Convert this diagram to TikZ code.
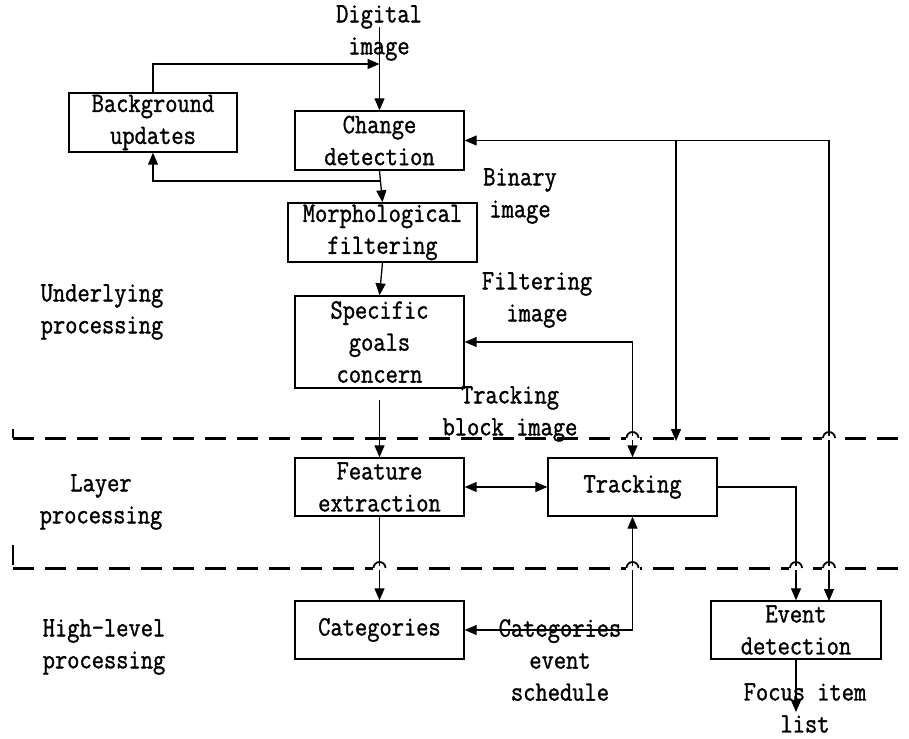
\documentclass[tikz,border=0pt]{standalone}
\usepackage{fontspec}
\setmonofont{Latin Modern Mono}[FakeStretch=0.85,FakeBold=1.2]
\usetikzlibrary{arrows.meta}
\begin{document}
\begin{tikzpicture}[x=1pt,y=-1pt,
  every node/.style={font=\ttfamily\fontsize{28}{32}\selectfont, align=center, inner sep=0pt},
  box/.style={draw, line width=1.4pt},
  conn/.style={line width=1.3pt, -{Triangle[length=12pt,width=10pt]}},
  biconn/.style={line width=1.3pt, {Triangle[length=12pt,width=10pt]}-{Triangle[length=12pt,width=10pt]}},
  dashline/.style={line width=3pt, dash pattern=on 21pt off 11pt},
  hop/.style={line width=1.8pt}]
\useasboundingbox (0,0) rectangle (909,738);

% boxes
\node[box, minimum width=168pt, minimum height=59pt] (bg) at (153,122.5) {Background\\updates};
\node[box, minimum width=169pt, minimum height=59pt] (cd) at (379.5,140.5) {Change\\detection};
\node[box, minimum width=189pt, minimum height=59pt] (mf) at (382.5,232.5) {Morphological\\filtering};
\node[box, minimum width=169pt, minimum height=92pt] (sg) at (379.5,342) {Specific\\goals\\concern};
\node[box, minimum width=169pt, minimum height=58pt] (fe) at (379.5,487) {Feature\\extraction};
\node[box, minimum width=169pt, minimum height=58pt] (tr) at (632.5,487) {Tracking};
\node[box, minimum width=169pt, minimum height=58pt] (ca) at (379.5,630) {Categories};
\node[box, minimum width=170pt, minimum height=58pt] (ed) at (796,630) {Event\\detection};

% labels
\node (l1) at (379,33) {Digital\\image};
\node (l2) at (520,196) {Binary\\image};
\node (l3) at (537,300) {Filtering\\image};
\node (l4) at (510,414) {Tracking\\block image};
\node (l5) at (102,312) {Underlying\\processing};
\node (l6) at (101,502) {Layer\\processing};
\node (l7) at (104,647) {High-level\\processing};
\node (l8) at (560,660) {Categories\\event\\schedule};
\node (l9) at (805,708) {Focus item\\list};

% dashed separators
\coordinate (d1a) at (13,438); \coordinate (d1b) at (909,438);
\coordinate (d2a) at (13,568); \coordinate (d2b) at (909,568);
\draw[dashline] (d1a) -- (d1b);
\draw[dashline] (d2a) -- (d2b);
\coordinate (t1a) at (13,429); \coordinate (t2a) at (13,545); \coordinate (t2b) at (13,565);
\draw[line width=1.6pt] (t1a) -- (d1a);
\draw[line width=1.6pt] (t2a) -- (t2b);

% connectors
\coordinate (din) at (379.5,27);
\draw[conn] (din) -- (cd.north);
\coordinate (bgin) at (379.5,64);
\draw[conn] (bg.north) |- (bgin);
\draw[conn] (cd.south) -- (mf.north);
\coordinate (br) at (380.5,181);
\draw[conn] (br) -| (bg.south);
\draw[conn] (mf.south) -- (sg.north);
\coordinate (sgout) at (379.5,400);
\draw[conn] (sgout) -- (fe.north);
\draw[biconn] (sg.east) -| (tr.north);
\draw[biconn] (fe.east) -- (tr.west);
\draw[conn] (fe.south) -- (ca.north);
\draw[conn] (tr.east) -| (ed.north);
\draw[biconn] (tr.south) |- (ca.east);
\coordinate (edin) at (829,601);
\coordinate (fb1) at (829,140.5);
\draw[biconn] (edin) -- (fb1) -- (cd.east);
\coordinate (fb2) at (676,140.5);
\coordinate (fb2e) at (676,441);
\draw[conn] (fb2) -- (fb2e);
\coordinate (focus) at (796,712);
\draw[conn] (ed.south) -- (focus);

% hops of the dashed lines over the connectors
\foreach \hx in {632.5,829} {
  \fill[white] (\hx-7,436.4) rectangle (\hx+7,439.6);
  \draw[hop] (\hx-6,438) arc[start angle=180,end angle=360,radius=6];
}
\foreach \hx in {379.5,632.5,796,829} {
  \fill[white] (\hx-7,566.4) rectangle (\hx+7,569.6);
  \draw[hop] (\hx-6,568) arc[start angle=180,end angle=360,radius=6];
}
\end{tikzpicture}
\end{document}
